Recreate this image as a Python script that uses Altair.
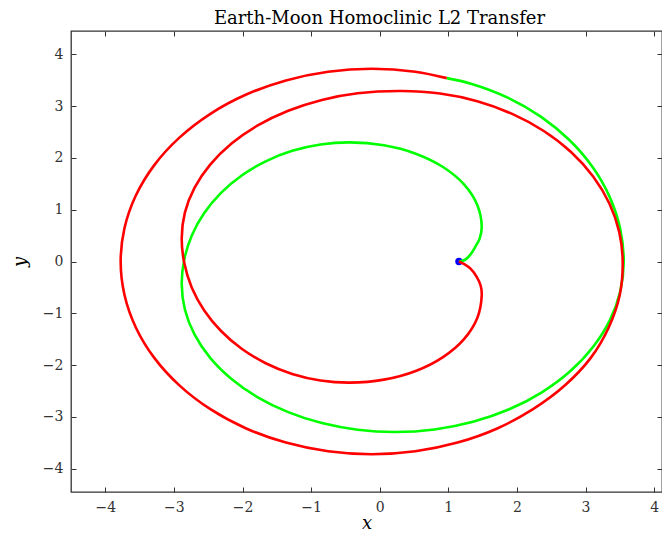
import altair as alt
import pandas as pd

# Unstable branch (green), leaving L2
green_x = [1.155, 1.239, 1.327, 1.399, 1.458, 1.487, 1.421, 1.229, 0.923, 0.525,
           0.061, -0.437, -0.863, -1.276, -1.662, -2.012, -2.313, -2.558, -2.739, -2.848,
           -2.886, -2.840, -2.700, -2.471, -2.160, -1.778, -1.334, -0.843, -0.321, 0.219,
           0.799, 1.360, 1.888, 2.364, 2.776, 3.109, 3.356, 3.506, 3.557, 3.506,
           3.353, 3.103, 2.765, 2.348, 1.866, 1.331, 0.977]
green_y = [0.0, 0.029, 0.143, 0.296, 0.448, 0.677, 1.097, 1.489, 1.824, 2.082,
           2.244, 2.300, 2.258, 2.136, 1.933, 1.660, 1.324, 0.935, 0.504, 0.044,
           -0.429, -0.926, -1.408, -1.861, -2.269, -2.622, -2.908, -3.120, -3.248, -3.292,
           -3.242, -3.094, -2.853, -2.525, -2.120, -1.651, -1.132, -0.580, -0.010, 0.626,
           1.244, 1.823, 2.345, 2.798, 3.164, 3.433, 3.540]

# Stable branch (red), returning to L2
red_x = [0.977, 0.519, -0.117, -0.752, -1.367, -1.946, -2.468, -2.920, -3.286, -3.555,
         -3.720, -3.776, -3.720, -3.555, -3.286, -2.920, -2.468, -1.946, -1.367, -0.752,
         -0.117, 0.519, 1.134, 1.713, 2.235, 2.697, 3.076, 3.338, 3.499, 3.542,
         3.493, 3.348, 3.111, 2.789, 2.392, 1.931, 1.423, 0.880, 0.321, -0.321,
         -0.843, -1.334, -1.778, -2.160, -2.471, -2.700, -2.840, -2.886, -2.848, -2.739,
         -2.558, -2.313, -2.012, -1.662, -1.276, -0.863, -0.437, 0.061, 0.525, 0.923,
         1.229, 1.421, 1.487, 1.472, 1.414, 1.327, 1.239, 1.155]
red_y = [3.540, 3.664, 3.721, 3.664, 3.496, 3.223, 2.851, 2.391, 1.861, 1.273,
         0.647, 0.0, -0.647, -1.273, -1.861, -2.391, -2.851, -3.223, -3.496, -3.664,
         -3.721, -3.664, -3.496, -3.223, -2.851, -2.395, -1.861, -1.273, -0.647, 0.0,
         0.563, 1.120, 1.641, 2.113, 2.519, 2.849, 3.094, 3.242, 3.292, 3.248,
         3.120, 2.910, 2.626, 2.277, 1.870, 1.422, 0.943, 0.448, -0.036, -0.506,
         -0.945, -1.342, -1.685, -1.964, -2.170, -2.296, -2.338, -2.281, -2.113, -1.845,
         -1.498, -1.094, -0.658, -0.468, -0.296, -0.143, -0.057, 0.0]

# L2 point (small periodic orbit marker)
l2_x = [1.155]
l2_y = [0.0]

x_ticks = [-4, -3, -2, -1, 0, 1, 2, 3, 4]
y_ticks = [-4, -3, -2, -1, 0, 1, 2, 3, 4]

rows = []
for i, (a, b) in enumerate(zip(green_x, green_y)):
    rows.append({"x": a, "y": b, "branch": "unstable", "i": i})
for i, (a, b) in enumerate(zip(red_x, red_y)):
    rows.append({"x": a, "y": b, "branch": "stable", "i": i})
lines_df = pd.DataFrame(rows)
l2_df = pd.DataFrame({"x": l2_x, "y": l2_y})

W, H = 591, 461
SERIF = "DejaVu Serif"
TC = "#333333"

xscale = alt.Scale(domain=[-4.5, 4.115], nice=False, zero=False)
yscale = alt.Scale(domain=[-4.45, 4.45], nice=False, zero=False)

common_axis = dict(offset=-5, domain=False, tickSize=5, tickColor=TC, tickWidth=1,
                   grid=False)

x_bottom = alt.Axis(orient="bottom", values=x_ticks, labelPadding=8, labelFont=SERIF,
                    labelFontSize=14, labelColor=TC, labelFlush=False,
                    title="x", titleFont=SERIF, titleFontStyle="italic",
                    titleFontSize=18, titleFontWeight="normal", titleColor="black",
                    titleY=36, titleBaseline="middle", **common_axis)
y_left = alt.Axis(orient="left", values=y_ticks, labelPadding=8, labelFont=SERIF,
                  labelFontSize=14, labelColor=TC, labelFlush=False,
                  title="y", titleFont=SERIF, titleFontStyle="italic",
                  titleFontSize=18, titleFontWeight="normal", titleColor="black",
                  titleX=-56, titleY=H / 2, titleAngle=270, titleBaseline="middle",
                  titleAlign="center", **common_axis)
x_top = alt.Axis(orient="top", values=x_ticks, labels=False, title="", **common_axis)
y_right = alt.Axis(orient="right", values=y_ticks, labels=False, title="", **common_axis)

marker = alt.Chart(l2_df).mark_circle(size=55, color="#0000ff", opacity=1).encode(
    x=alt.X("x:Q", scale=xscale, axis=x_top),
    y=alt.Y("y:Q", scale=yscale, axis=y_right),
)

lines = alt.Chart(lines_df).mark_line(strokeWidth=2.6, interpolate="catmull-rom",
                                      clip=True).encode(
    x=alt.X("x:Q", scale=xscale, axis=x_bottom),
    y=alt.Y("y:Q", scale=yscale, axis=y_left),
    color=alt.Color("branch:N",
                    scale=alt.Scale(domain=["unstable", "stable"],
                                    range=["#00ff00", "#ff0000"]),
                    legend=None),
    order=alt.Order("i:Q"),
)

chart = alt.layer(marker, lines).resolve_axis(x="independent", y="independent").properties(
    width=W,
    height=H,
    title=alt.TitleParams("Earth-Moon Homoclinic L2 Transfer", font=SERIF, fontSize=18,
                          fontWeight="normal", color="black", offset=3, dx=13,
                          anchor="middle"),
    padding={"left": 63, "top": 23, "right": 0, "bottom": 42},
    autosize=alt.AutoSizeParams(type="none"),
).configure_view(stroke=TC, strokeWidth=1.3)

chart.save("out.html", embed_options={"renderer": "svg", "actions": False})
